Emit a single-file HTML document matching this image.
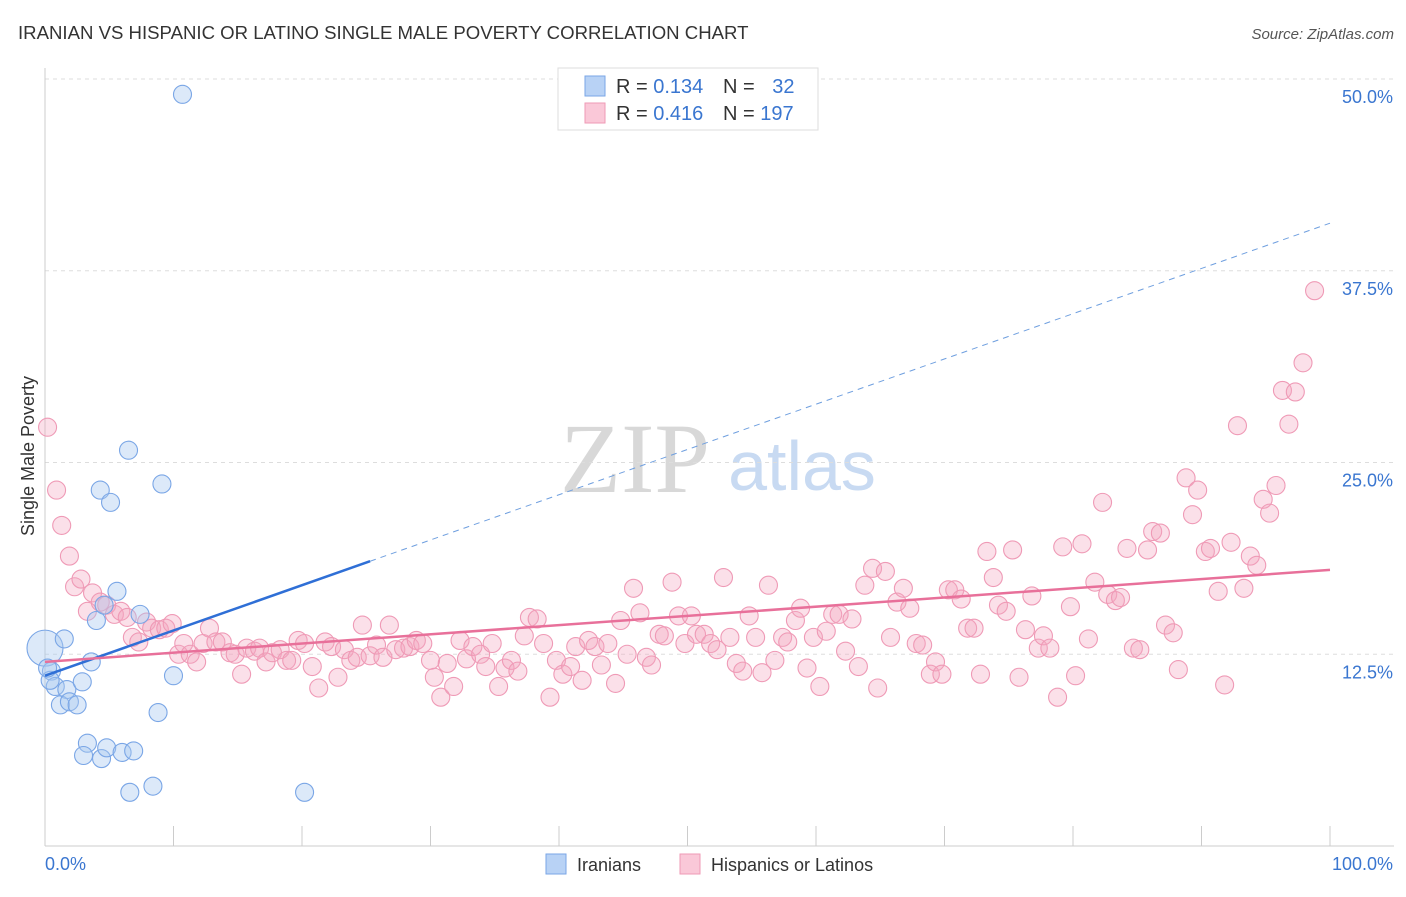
<!DOCTYPE html>
<html><head><meta charset="utf-8"><style>
body{margin:0;background:#fff;font-family:"Liberation Sans",sans-serif}
svg text{font-family:"Liberation Sans",sans-serif}
</style></head><body>
<svg id="chart" width="1406" height="892" xmlns="http://www.w3.org/2000/svg">
<text x="18" y="39" font-size="18.6" fill="#333">IRANIAN VS HISPANIC OR LATINO SINGLE MALE POVERTY CORRELATION CHART</text>
<text x="1394" y="39" font-size="15" fill="#555" text-anchor="end" font-style="italic">Source: ZipAtlas.com</text>
<g>
<text x="635" y="492" font-size="100" fill="#d8d8d8" text-anchor="middle" style="font-family:'Liberation Serif',serif">ZIP</text>
<text x="802" y="490" font-size="70" fill="#c8daf2" text-anchor="middle">atlas</text>
</g>
<g id="grid"></g><g id="axes"></g><g id="marks"></g>
<text transform="translate(34,456) rotate(-90)" font-size="18" fill="#333" text-anchor="middle">Single Male Poverty</text>
<g>
<rect x="558" y="68" width="260" height="62" fill="#fff" stroke="#ddd"/>
<rect x="585" y="76" width="20" height="20" fill="#b8d2f5" stroke="#7aa6e6"/>
<rect x="585" y="103" width="20" height="20" fill="#fac8d8" stroke="#ef9ab6"/>
<text x="616" y="93" font-size="20" fill="#333">R = <tspan fill="#3a76d0">0.134</tspan></text>
<text x="723" y="93" font-size="20" fill="#333">N = <tspan fill="#3a76d0" dx="12">32</tspan></text>
<text x="616" y="120" font-size="20" fill="#333">R = <tspan fill="#3a76d0">0.416</tspan></text>
<text x="723" y="120" font-size="20" fill="#333">N = <tspan fill="#3a76d0">197</tspan></text>
</g>
<g>
<rect x="546" y="854" width="20" height="20" fill="#b8d2f5" stroke="#7aa6e6"/>
<text x="577" y="871" font-size="18" fill="#333">Iranians</text>
<rect x="680" y="854" width="20" height="20" fill="#fac8d8" stroke="#ef9ab6"/>
<text x="711" y="871" font-size="18" fill="#333">Hispanics or Latinos</text>
</g>
</svg>
<script>
const yTicks=[12.5,25,37.5,50];
const yTickLabels=["12.5%","25.0%","37.5%","50.0%"];
const xTickLabels=["0.0%","100.0%"];
const blueX=[10.7,0,1.5,0.5,0.8,1.7,2.9,1.2,1.9,2.5,3.6,4.0,5.6,7.4,4.3,5.1,6.5,9.1,10.0,8.8,3.3,3.0,4.4,4.8,6.0,6.9,6.6,8.4,20.2,4.6,0.4,0.2];
const blueY=[49.0,12.9,13.5,11.4,10.4,10.2,10.7,9.2,9.4,9.2,12.0,14.7,16.6,15.1,23.2,22.4,25.8,23.6,11.1,8.7,6.7,5.9,5.7,6.4,6.1,6.2,3.5,3.9,3.5,15.7,10.8,11.6];
const pinkX=[0.2,0.9,1.3,1.9,2.3,2.8,3.3,3.7,4.3,4.8,5.4,5.9,6.4,6.8,7.3,7.9,8.3,8.9,9.4,9.9,10.4,10.8,11.3,11.8,12.3,12.8,13.3,13.8,14.4,14.8,15.3,15.7,16.3,16.7,17.2,17.7,18.3,18.8,19.2,19.7,20.2,20.8,21.3,21.8,22.3,22.8,23.3,23.8,24.3,24.7,25.3,25.8,26.3,26.8,27.3,27.9,28.4,28.9,29.4,30.0,30.3,30.8,31.3,31.8,32.3,32.8,33.3,33.9,34.3,34.8,35.3,35.8,36.3,36.8,37.3,37.7,38.3,38.8,39.3,39.8,40.3,40.9,41.3,41.8,42.3,42.8,43.3,43.8,44.4,44.8,45.3,45.8,46.3,46.8,47.2,47.8,48.2,48.8,49.3,49.8,50.3,50.7,51.3,51.8,52.3,52.8,53.3,53.8,54.3,54.8,55.3,55.8,56.3,56.8,57.4,57.8,58.4,58.8,59.3,59.8,60.3,60.8,61.3,61.8,62.3,62.8,63.3,63.8,64.4,64.8,65.4,65.8,66.3,66.8,67.3,67.8,68.3,68.9,69.3,69.8,70.3,70.8,71.3,71.8,72.3,72.8,73.3,73.8,74.2,74.8,75.3,75.8,76.3,76.8,77.3,77.7,78.2,78.8,79.2,79.8,80.2,80.7,81.2,81.7,82.3,82.7,83.3,83.7,84.2,84.7,85.2,85.8,86.2,86.8,87.2,87.8,88.2,88.8,89.3,89.7,90.3,90.7,91.3,91.8,92.3,92.8,93.3,93.8,94.3,94.8,95.3,95.8,96.3,96.8,97.3,97.9,98.8];
const pinkY=[27.3,23.2,20.9,18.9,16.9,17.4,15.3,16.5,15.9,15.7,15.1,15.3,14.9,13.6,13.3,14.6,14.2,14.1,14.2,14.5,12.5,13.2,12.5,12.0,13.2,14.2,13.3,13.3,12.6,12.5,11.2,12.9,12.7,12.9,12.0,12.6,12.8,12.1,12.1,13.4,13.2,11.7,10.3,13.3,13.0,11.0,12.8,12.1,12.3,14.4,12.4,13.1,12.3,14.4,12.8,12.9,13.0,13.4,13.2,12.1,11.0,9.7,11.9,10.4,13.4,12.2,13.0,12.5,11.7,13.2,10.4,11.6,12.1,11.4,13.7,14.9,14.8,13.2,9.7,12.1,11.2,11.7,13.0,10.8,13.4,13.0,11.8,13.2,10.6,14.7,12.5,16.8,15.2,12.3,11.8,13.8,13.7,17.2,15.0,13.2,15.0,13.8,13.8,13.2,12.8,17.5,13.6,11.9,11.4,15.0,13.6,11.3,17.0,12.1,13.6,13.3,14.7,15.5,11.6,13.6,10.4,14.0,15.1,15.1,12.7,14.8,11.7,17.0,18.1,10.3,17.9,13.6,15.9,16.8,15.5,13.2,13.1,11.2,12.0,11.2,16.7,16.7,16.1,14.2,14.2,11.2,19.2,17.5,15.7,15.3,19.3,11.0,14.1,16.3,12.9,13.7,12.9,9.7,19.5,15.6,11.1,19.7,13.5,17.2,22.4,16.4,16.0,16.2,19.4,12.9,12.8,19.3,20.5,20.4,14.4,13.9,11.5,24.0,21.6,23.2,19.2,19.4,16.6,10.5,19.8,27.4,16.8,18.9,18.3,22.6,21.7,23.5,29.7,27.5,29.6,31.5,36.2];
const blueTrend=[11.1,40.6];
const pinkTrend=[12.0,18.0];
const NS="http://www.w3.org/2000/svg";
const X0=45,X1=1330,Y0=846,YPP=(846-79)/50;
function xs(v){return X0+(X1-X0)*v/100;}
function ys(v){return Y0-v*YPP;}
function mk(t,a,p){const e=document.createElementNS(NS,t);for(const k in a)e.setAttribute(k,a[k]);p.appendChild(e);return e;}
const grid=document.getElementById('grid'),axes=document.getElementById('axes'),marks=document.getElementById('marks');
yTicks.forEach((t,i)=>{
 const l=mk('line',{x1:X0,x2:1394,y1:ys(t),y2:ys(t),stroke:'#ddd','stroke-dasharray':'4,4'},grid);
 
 
 const tx=mk('text',{x:1393,y:ys(t)+24,'font-size':18,fill:'#3a76d0','text-anchor':'end'},axes);
 tx.textContent=yTickLabels[i];
 
 
});
const ax=mk('line',{x1:X0,x2:1394,y1:Y0,y2:Y0,stroke:'#ccc'},axes);


const ay=mk('line',{x1:X0,x2:X0,y1:68,y2:Y0,stroke:'#ccc'},axes);


for(let i=0;i<=10;i++){
 const t=mk('line',{x1:xs(i*10),x2:xs(i*10),y1:826,y2:Y0,stroke:'#ccc'},axes);
 
 
}
[[0,'start',45],[100,'end',1393]].forEach((d,i)=>{
 const tx=mk('text',{x:d[2],y:870,'font-size':18,fill:'#3a76d0','text-anchor':d[1]},axes);
 tx.textContent=xTickLabels[i];
 
 
});
pinkX.forEach((x,i)=>{
 const c=mk('circle',{cx:xs(x),cy:ys(pinkY[i]),r:9,fill:'rgba(244,166,192,0.35)',stroke:'#ef9ab6','stroke-width':1.1},marks);
 
 
});
blueX.forEach((x,i)=>{
 const c=mk('circle',{cx:xs(x),cy:ys(blueY[i]),r:i==1?18:9,fill:'rgba(168,200,240,0.4)',stroke:'#7aa6e6','stroke-width':1.1},marks);
 
 
});
const bs=mk('line',{x1:xs(0),y1:ys(blueTrend[0]),x2:xs(25.3),y2:ys(blueTrend[0]+(blueTrend[1]-blueTrend[0])*0.253),stroke:'#2f6fd6','stroke-width':2.5},marks);


const bd=mk('line',{x1:xs(25.3),y1:ys(blueTrend[0]+(blueTrend[1]-blueTrend[0])*0.253),x2:xs(100),y2:ys(blueTrend[1]),stroke:'#6f9fdf','stroke-width':1,'stroke-dasharray':'6,5'},marks);


const pt=mk('line',{x1:xs(0),y1:ys(pinkTrend[0]),x2:xs(100),y2:ys(pinkTrend[1]),stroke:'#e8709a','stroke-width':2.5},marks);


</script>
</body></html>
